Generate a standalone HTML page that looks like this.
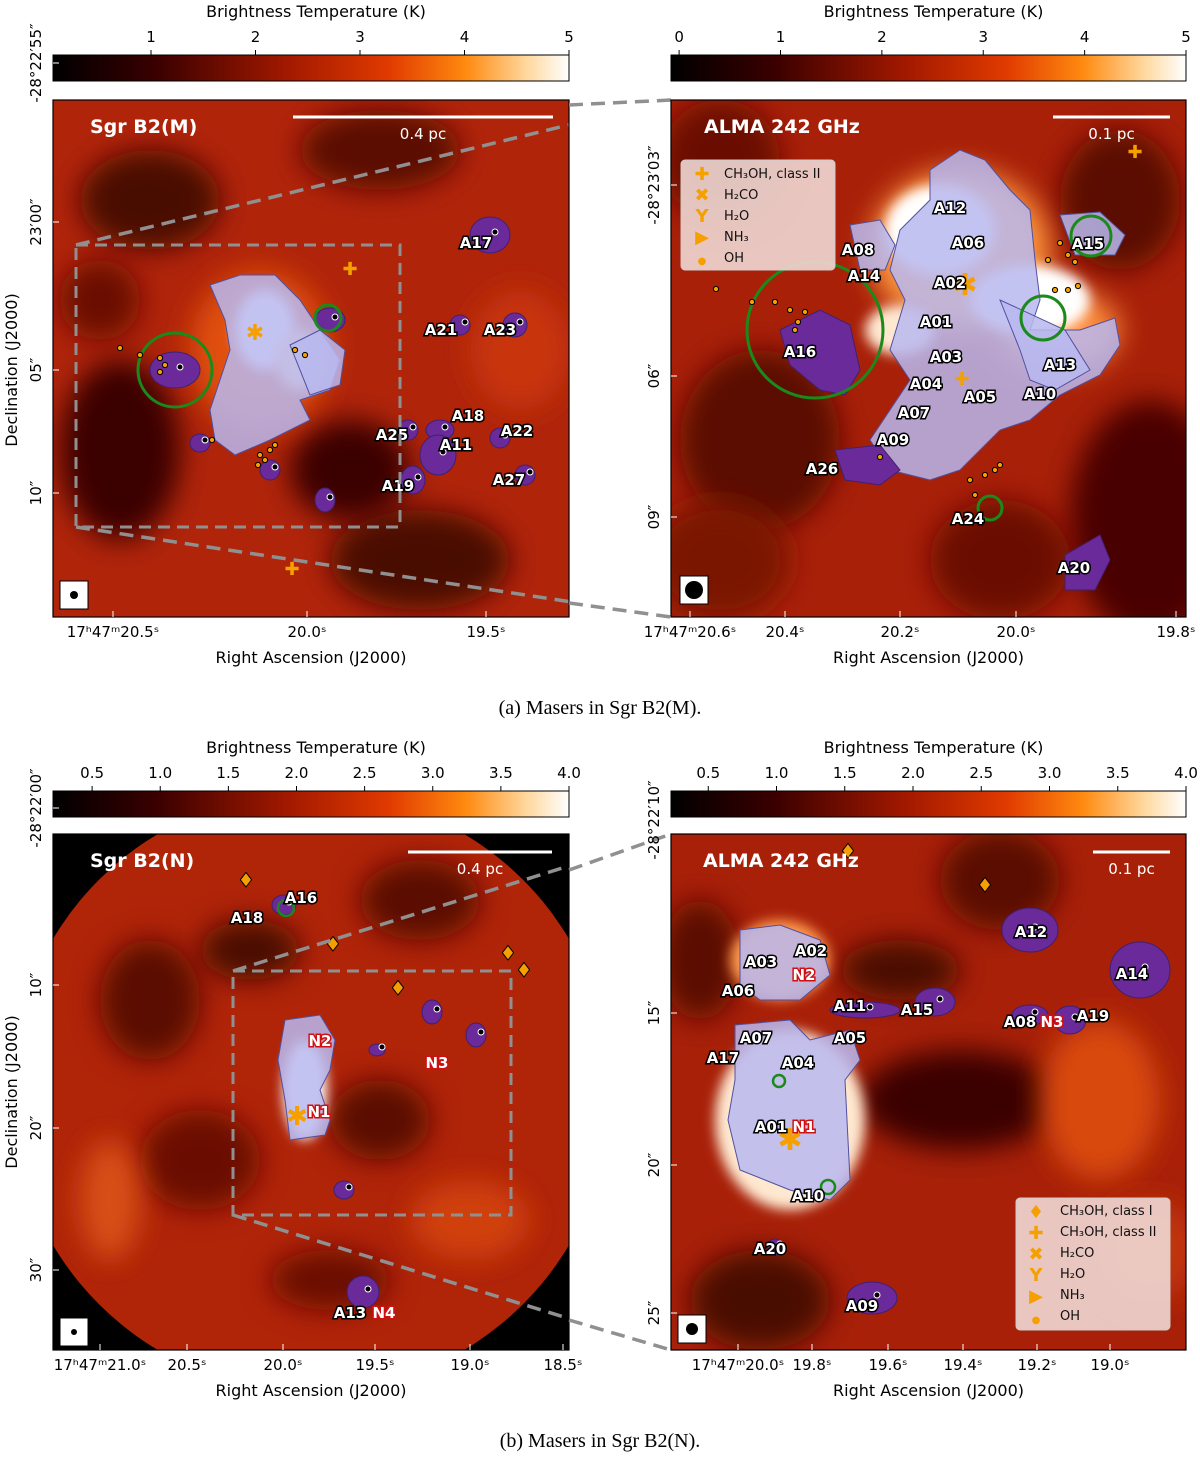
<!DOCTYPE html>
<html><head><meta charset="utf-8">
<style>
html,body{margin:0;padding:0;background:#fff;}
svg{display:block;font-family:"DejaVu Sans","Liberation Sans",sans-serif;}
.tk{font-size:15px;fill:#000;}
.ax{font-size:16px;fill:#000;}
.cap{font-family:"Liberation Serif",serif;font-size:20px;fill:#000;}
.src{font-size:15px;font-weight:bold;fill:#fff;stroke:#000;stroke-width:3px;paint-order:stroke;}
.ttl{font-size:19px;font-weight:bold;fill:#fff;}
.lg{font-size:13px;fill:#111;}
</style></head>
<body>
<svg id="fig" width="1200" height="1457" viewBox="0 0 1200 1457" xmlns="http://www.w3.org/2000/svg">
<defs>
<linearGradient id="cmap" x1="0" x2="1" y1="0" y2="0">
<stop offset="0" stop-color="#000"/><stop offset="0.2" stop-color="#3a0000"/><stop offset="0.45" stop-color="#a01800"/>
<stop offset="0.65" stop-color="#e03a00"/><stop offset="0.8" stop-color="#ff8a10"/><stop offset="0.92" stop-color="#ffd9a0"/><stop offset="1" stop-color="#fff"/>
</linearGradient>
<filter id="blur" x="-50%" y="-50%" width="200%" height="200%"><feGaussianBlur stdDeviation="14"/></filter>
<filter id="blur2" x="-50%" y="-50%" width="200%" height="200%"><feGaussianBlur stdDeviation="6"/></filter>
<clipPath id="c1"><rect x="53" y="100" width="516" height="517"/></clipPath>
<clipPath id="c2"><rect x="671" y="100" width="515" height="517"/></clipPath>
<clipPath id="c3"><rect x="53" y="834" width="516" height="516"/></clipPath>
<clipPath id="c4"><rect x="671" y="834" width="515" height="516"/></clipPath>
</defs>
<g id="root"></g>
</svg>
<script>
// ---- data arrays ----
const cbTicksTL=[1,2,3,4,5];
const cbTicksTR=[0,1,2,3,4,5];
const cbTicksBL=[0.5,1.0,1.5,2.0,2.5,3.0,3.5,4.0];
const cbTicksBR=[0.5,1.0,1.5,2.0,2.5,3.0,3.5,4.0];
const raTL=['17ʰ47ᵐ20.5ˢ','20.0ˢ','19.5ˢ'];
const raTR=['17ʰ47ᵐ20.6ˢ','20.4ˢ','20.2ˢ','20.0ˢ','19.8ˢ'];
const raBL=['17ʰ47ᵐ21.0ˢ','20.5ˢ','20.0ˢ','19.5ˢ','19.0ˢ','18.5ˢ'];
const raBR=['17ʰ47ᵐ20.0ˢ','19.8ˢ','19.6ˢ','19.4ˢ','19.2ˢ','19.0ˢ'];
const decTL=['-28°22′55″','23′00″','05″','10″'];
const decTR=['-28°23′03″','06″','09″'];
const decBL=['-28°22′00″','10″','20″','30″'];
const decBR=['-28°22′10″','15″','20″','25″'];
const srcTL=[['A17',476,243],['A21',441,330],['A23',500,330],['A18',468,416],['A22',517,431],['A25',392,435],['A11',456,445],['A19',398,486],['A27',509,480]];
const srcTR=[['A12',950,208],['A08',858,250],['A06',968,243],['A14',864,276],['A15',1088,244],['A02',950,283],['A01',936,322],['A16',800,352],['A03',946,357],['A13',1060,365],['A04',926,384],['A10',1040,394],['A05',980,397],['A07',914,413],['A09',893,440],['A26',822,469],['A24',968,519],['A20',1074,568]];
const srcBL=[['A16',301,898],['A18',247,918],['N2',320,1041],['N3',437,1063],['N1',319,1112],['A13',350,1313],['N4',384,1313]];
const srcBR=[['A12',1031,932],['A02',811,951],['A03',761,962],['N2',804,975],['A06',738,991],['A14',1132,974],['A11',850,1006],['A15',917,1010],['A08',1020,1022],['N3',1052,1022],['A19',1093,1016],['A07',756,1038],['A05',850,1038],['A17',723,1058],['A04',798,1063],['A01',771,1127],['N1',804,1127],['A10',808,1196],['A20',770,1249],['A09',862,1306]];

const NS='http://www.w3.org/2000/svg';
const root=document.getElementById('root');
function el(tag,attrs,parent,text){const e=document.createElementNS(NS,tag);for(const k in attrs)e.setAttribute(k,attrs[k]);if(text!==undefined)e.textContent=text;(parent||root).appendChild(e);return e;}

function colorbar(x0,w,y0,vmin,vmax,ticks,name){
  const g=el('g',{});
  
  
  el('rect',{x:x0,y:y0,width:w,height:26,fill:'url(#cmap)',stroke:'#000','stroke-width':1},g);
  const sx=v=>x0+(v-vmin)/(vmax-vmin)*w;
  ticks.forEach(t=>{
    el('line',{x1:sx(t),x2:sx(t),y1:y0,y2:y0-5,stroke:'#000'},g);
    const lab=el('text',{x:sx(t),y:y0-13,'text-anchor':'middle',class:'tk'},g,(t%1===0&&ticks.some(v=>v%1!==0))?t.toFixed(1):String(t));
    
    
  });
  const tt=el('text',{x:x0+w/2+5,y:y0-38,'text-anchor':'middle',class:'ax'},g,'Brightness Temperature (K)');
  
  
}
colorbar(53,516,55,0.062,5,cbTicksTL,'colorbar-sgrb2m-wide');
colorbar(671,515,55,-0.08,5,cbTicksTR,'colorbar-sgrb2m-zoom');
colorbar(53,516,791,0.213,4.0,cbTicksBL,'colorbar-sgrb2n-wide');
colorbar(671,515,791,0.227,4.0,cbTicksBR,'colorbar-sgrb2n-zoom');

function blobs(g,list,filt){list.forEach(b=>el('ellipse',{cx:b[0],cy:b[1],rx:b[2],ry:b[3],fill:b[4],filter:filt||'url(#blur)'},g));}
function region(g,pts){const p=el('polygon',{points:pts,fill:'#b8b8f0','fill-opacity':0.85,stroke:'#5050a0','stroke-width':1},g);return p;}
function purple(g,cx,cy,rx,ry){el('ellipse',{cx,cy,rx,ry,fill:'#6a2a9a',stroke:'#402070','stroke-width':1},g);el('circle',{cx:cx+5,cy:cy-3,r:3,fill:'#000',stroke:'#fff','stroke-width':1},g);}

function panel(x,y,w,h,clip,name,base){
  const g=el('g',{'clip-path':'url(#'+clip+')'});
  
  
  el('rect',{x,y,width:w,height:h,fill:base},g);
  return g;
}
function frame(x,y,w,h,name){
  const r=el('rect',{x,y,width:w,height:h,fill:'none',stroke:'#000','stroke-width':1.2});
  
  
}
function labels(g,list){list.forEach(s=>{const t=el('text',{x:s[1],y:s[2]+5,'text-anchor':'middle',class:'src'},g,s[0]);
  
  
  if(s[0][0]==='N'){t.setAttribute('style','fill:#fff;stroke:#d01010');}
});}
function dots(g,pts){pts.forEach(p=>el('circle',{cx:p[0],cy:p[1],r:2.6,fill:'#f5a000',stroke:'#000','stroke-width':1},g));}
function axes(x0,y0,w,h,ra,raX,dec,decY,axname){
  ra.forEach((t,i)=>{const l=el('text',{x:raX[i],y:y0+h+20,'text-anchor':'middle',class:'tk'},root,t);
    
    
    el('line',{x1:raX[i],x2:raX[i],y1:y0+h,y2:y0+h-6,stroke:'#fff'});});
  dec.forEach((t,i)=>{const l=el('text',{x:0,y:0,transform:`translate(${x0-12},${decY[i]}) rotate(-90)`,'text-anchor':'middle',class:'tk'},root,t);
    
    
    el('line',{x1:x0,x2:x0+6,y1:decY[i],y2:decY[i],stroke:'#fff'});});
  const a=el('text',{x:x0+w/2,y:y0+h+46,'text-anchor':'middle',class:'ax'},root,'Right Ascension (J2000)');
  
  
}
function beam(x,y,r){el('rect',{x,y,width:28,height:28,fill:'#fff',stroke:'#000'});el('circle',{cx:x+14,cy:y+14,r,fill:'#000'});}
function scalebar(x1,x2,y,txt){el('line',{x1,x2,y1:y,y2:y,stroke:'#fff','stroke-width':3});el('text',{x:(x1+x2)/2,y:y+22,'text-anchor':'middle',class:'tk',fill:'#fff',style:'fill:#fff'},root,txt);}

// ---- Panel TL ----
let g=panel(53,100,516,517,'c1','map-sgrb2m-wide','#b0240a');
blobs(g,[[150,200,70,50,'#4a0800'],[380,150,80,40,'#5a0c00'],[120,450,60,90,'#3a0500'],[420,560,90,50,'#4a0800'],[350,470,60,50,'#3a0500'],[520,350,50,60,'#c8340c'],[260,350,70,80,'#e05010'],[100,300,40,40,'#6a1000']]);
blobs(g,[[265,330,30,40,'#ffffff'],[300,360,25,30,'#ffe0b0']],'url(#blur2)');
region(g,'210,285 240,275 275,275 300,300 320,330 340,360 330,390 300,400 310,420 270,440 235,455 215,440 210,410 220,380 230,350 225,320');
region(g,'290,345 320,330 345,350 340,385 310,395');
purple(g,175,370,25,18);purple(g,490,235,20,18);purple(g,330,320,15,12);purple(g,460,325,10,10);purple(g,515,325,12,12);
purple(g,440,430,14,10);purple(g,408,430,10,10);purple(g,438,455,18,20);purple(g,500,438,10,10);purple(g,413,480,12,14);purple(g,525,475,10,10);purple(g,270,470,10,10);purple(g,325,500,10,12);purple(g,200,443,10,9);
el('circle',{cx:175,cy:370,r:37,fill:'none',stroke:'#1a8a1a','stroke-width':3},g);
el('circle',{cx:328,cy:318,r:13,fill:'none',stroke:'#1a8a1a','stroke-width':3},g);
dots(g,[[120,348],[140,355],[160,358],[165,365],[160,372],[260,455],[265,460],[270,450],[258,465],[275,445],[295,350],[305,355],[212,440]]);
el('text',{x:350,y:275,'text-anchor':'middle',style:'fill:#f5a000;font-size:18px;font-weight:bold'},g,'✚');
el('text',{x:292,y:575,'text-anchor':'middle',style:'fill:#f5a000;font-size:18px;font-weight:bold'},g,'✚');
el('text',{x:255,y:340,'text-anchor':'middle',style:'fill:#f5a000;font-size:22px;font-weight:bold'},g,'✱');
labels(g,srcTL);
el('rect',{x:76,y:245,width:324,height:282,fill:'none',stroke:'#909090','stroke-width':3,'stroke-dasharray':'12,7'},g);
el('line',{x1:76,y1:245,x2:671,y2:100,stroke:'#909090','stroke-width':3.5,'stroke-dasharray':'14,8'},g);
el('line',{x1:76,y1:527,x2:671,y2:617,stroke:'#909090','stroke-width':3.5,'stroke-dasharray':'14,8'},g);
el('text',{x:90,y:133,class:'ttl'},root,'Sgr B2(M)');
scalebar(293,553,117,'0.4 pc');
beam(60,581,4);
frame(53,100,516,517,'map-frame-tl');
axes(53,100,516,517,raTL,[113,307,486],decTL,[63,222,370,493]);
el('line',{x1:569,y1:105,x2:671,y2:100,stroke:'#909090','stroke-width':3.5,'stroke-dasharray':'14,8'});
el('line',{x1:569,y1:603,x2:671,y2:617,stroke:'#909090','stroke-width':3.5,'stroke-dasharray':'14,8'});

// ---- Panel TR ----
g=panel(671,100,515,517,'c2','map-sgrb2m-zoom','#a82008');
blobs(g,[[720,160,60,60,'#6a0c00'],[760,440,80,90,'#5a0800'],[1150,520,80,120,'#4a0600'],[1120,200,60,70,'#5a0a00'],[720,560,70,60,'#7a1200'],[1000,560,70,60,'#6a0e00'],[960,250,90,80,'#ff9a40'],[1060,330,60,40,'#ff9040']]);
blobs(g,[[940,230,55,45,'#ffffff'],[1030,300,60,35,'#ffffff'],[900,330,35,25,'#ffe8d0']],'url(#blur2)');
region(g,'930,170 960,150 985,160 1010,190 1030,210 1035,260 1040,300 1030,330 1080,330 1115,318 1120,345 1100,375 1060,395 1030,420 1000,430 960,470 930,480 890,470 870,440 890,410 910,380 890,350 905,300 890,270 900,230 930,200');
region(g,'850,225 880,220 895,245 885,270 860,270');
region(g,'1060,215 1100,212 1125,235 1115,255 1075,255');
el('polygon',{points:'780,330 820,310 850,325 860,370 845,395 820,390 790,365','fill':'#6a2a9a','stroke':'#402070'},g);
el('polygon',{points:'835,450 880,445 900,470 880,485 845,480','fill':'#6a2a9a','stroke':'#402070'},g);
el('polygon',{points:'1065,555 1100,535 1110,560 1095,590 1065,590','fill':'#6a2a9a','stroke':'#402070'},g);
el('polygon',{points:'1000,300 1020,350 1030,380 1055,390 1090,370 1065,330','fill':'#b8b8f0','fill-opacity':0.85,'stroke':'#5050a0'},g);
el('circle',{cx:815,cy:330,r:68,fill:'none',stroke:'#1a8a1a','stroke-width':3},g);
el('circle',{cx:1091,cy:236,r:20,fill:'none',stroke:'#1a8a1a','stroke-width':3},g);
el('circle',{cx:1043,cy:318,r:22,fill:'none',stroke:'#1a8a1a','stroke-width':3},g);
el('circle',{cx:990,cy:508,r:12,fill:'none',stroke:'#1a8a1a','stroke-width':3},g);
dots(g,[[716,289],[752,302],[775,302],[790,310],[798,322],[805,312],[795,330],[1060,243],[1068,255],[1075,262],[1048,260],[1055,290],[1068,290],[1078,286],[970,480],[985,475],[995,470],[1000,465],[975,495],[880,457]]);
el('text',{x:1135,y:158,'text-anchor':'middle',style:'fill:#f5a000;font-size:18px;font-weight:bold'},g,'✚');
el('text',{x:962,y:385,'text-anchor':'middle',style:'fill:#f5a000;font-size:18px;font-weight:bold'},g,'✚');
el('text',{x:965,y:295,'text-anchor':'middle',style:'fill:#f5a000;font-size:30px;font-weight:bold'},g,'✱');
labels(g,srcTR);
const lg1=el('g',{});


el('rect',{x:681,y:160,width:154,height:110,rx:4,fill:'#f0d8d4','fill-opacity':0.9,stroke:'#ccc'},lg1);
const legTop=['CH₃OH, class II','H₂CO','H₂O','NH₃','OH'];
const legSymTop=['✚','✖','Y','▶','●'];
legTop.forEach((t,i)=>{el('text',{x:702,y:180+i*21,'text-anchor':'middle',style:'fill:#f5a000;font-size:'+(i==4?10:18)+'px;font-weight:bold'},lg1,legSymTop[i]);
  const e=el('text',{x:724,y:178+i*21,class:'lg'},lg1,t);
  
  });
el('text',{x:704,y:133,class:'ttl'},root,'ALMA 242 GHz');
scalebar(1053,1170,117,'0.1 pc');
beam(680,576,9);
frame(671,100,515,517,'map-frame-tr');
axes(671,100,515,517,raTR,[690,785,900,1016,1176],decTR,[185,376,517]);
let dl=el('text',{x:0,y:0,transform:'translate(17,370) rotate(-90)','text-anchor':'middle',class:'ax'},root,'Declination (J2000)');

let c1=el('text',{x:600,y:714,'text-anchor':'middle',class:'cap'},root,'(a) Masers in Sgr B2(M).');


// ---- Panel BL ----
g=panel(53,834,516,516,'c3','map-sgrb2n-wide','#000');
el('circle',{cx:311,cy:1092,r:300,fill:'#b02408'},g);
blobs(g,[[150,1000,50,60,'#5a0c00'],[420,900,60,40,'#5a0a00'],[200,1160,60,50,'#6a1000'],[110,1200,30,60,'#d85018'],[470,1220,60,40,'#d04010'],[250,950,50,30,'#4a0800'],[380,1120,50,40,'#5a0a00'],[330,1280,60,30,'#6a1000']]);
blobs(g,[[305,1090,22,50,'#ffffff']],'url(#blur2)');
region(g,'285,1020 320,1015 335,1040 330,1070 320,1090 330,1120 325,1135 290,1140 285,1100 278,1060');
purple(g,284,905,12,10);purple(g,432,1012,10,12);purple(g,476,1035,10,12);purple(g,377,1050,8,6);purple(g,344,1190,10,9);purple(g,363,1292,16,16);
el('circle',{cx:286,cy:908,r:8,fill:'none',stroke:'#1a8a1a','stroke-width':2.5},g);
['246,887','333,951','398,995','508,960','524,977'].forEach(p=>{const [a,b]=p.split(',');el('text',{x:a,y:b,'text-anchor':'middle',style:'fill:#f5a000;font-size:20px;stroke:#000;stroke-width:1'},g,'♦');});
el('text',{x:297,y:1125,'text-anchor':'middle',style:'fill:#f5a000;font-size:26px;font-weight:bold'},g,'✱');
labels(g,srcBL);
el('rect',{x:233,y:971,width:278,height:244,fill:'none',stroke:'#909090','stroke-width':3,'stroke-dasharray':'12,7'},g);
el('line',{x1:233,y1:971,x2:671,y2:834,stroke:'#909090','stroke-width':3.5,'stroke-dasharray':'14,8'},g);
el('line',{x1:233,y1:1215,x2:671,y2:1350,stroke:'#909090','stroke-width':3.5,'stroke-dasharray':'14,8'},g);
el('text',{x:90,y:867,class:'ttl'},root,'Sgr B2(N)');
scalebar(408,552,852,'0.4 pc');
beam(60,1318,3);
frame(53,834,516,516,'map-frame-bl');
axes(53,834,516,516,raBL,[100,187,283,375,470,563],decBL,[808,985,1128,1270]);
el('line',{x1:569,y1:870,x2:671,y2:834,stroke:'#909090','stroke-width':3.5,'stroke-dasharray':'14,8'});
el('line',{x1:569,y1:1320,x2:671,y2:1350,stroke:'#909090','stroke-width':3.5,'stroke-dasharray':'14,8'});

// ---- Panel BR ----
g=panel(671,834,515,516,'c4','map-sgrb2n-zoom','#a82008');
blobs(g,[[960,1100,100,50,'#3a0500'],[1000,880,60,50,'#5a0a00'],[760,1300,70,50,'#4a0800'],[1100,1100,60,80,'#d84a10'],[900,970,60,30,'#4a0800'],[1150,1250,50,50,'#c03410'],[700,960,40,60,'#5a0800']]);
blobs(g,[[790,1120,75,90,'#ffe8d0'],[780,960,50,40,'#ff9a50']],'url(#blur2)');
region(g,'740,930 780,925 820,940 830,975 800,1000 760,1000 740,985');
region(g,'735,1025 790,1020 810,1040 850,1030 860,1060 845,1080 850,1180 830,1200 790,1190 740,1170 728,1120 735,1080');
['1030,930,28,22','1140,970,30,28','935,1002,20,14','1070,1020,16,14','1030,1015,18,10','865,1010,35,8','775,1247,8,8','872,1298,25,16'].forEach(s=>{const [a,b,c,d]=s.split(',').map(Number);purple(g,a,b,c,d);});
el('circle',{cx:828,cy:1187,r:7,fill:'none',stroke:'#1a8a1a','stroke-width':2.5},g);
el('circle',{cx:779,cy:1081,r:6,fill:'none',stroke:'#1a8a1a','stroke-width':2.5},g);
['848,858','985,892'].forEach(p=>{const [a,b]=p.split(',');el('text',{x:a,y:b,'text-anchor':'middle',style:'fill:#f5a000;font-size:20px;stroke:#000;stroke-width:1'},g,'♦');});
el('text',{x:790,y:1150,'text-anchor':'middle',style:'fill:#f5a000;font-size:30px;font-weight:bold'},g,'✱');
labels(g,srcBR);
const lg2=el('g',{});


el('rect',{x:1016,y:1198,width:154,height:132,rx:4,fill:'#f0d8d4','fill-opacity':0.9,stroke:'#ccc'},lg2);
const legBot=['CH₃OH, class I','CH₃OH, class II','H₂CO','H₂O','NH₃','OH'];
const legSymBot=['♦','✚','✖','Y','▶','●'];
legBot.forEach((t,i)=>{el('text',{x:1036,y:1218+i*21,'text-anchor':'middle',style:'fill:#f5a000;font-size:'+(i==5?10:18)+'px;font-weight:bold'},lg2,legSymBot[i]);
  const e=el('text',{x:1060,y:1215+i*21,class:'lg'},lg2,t);
  
  });
el('text',{x:703,y:867,class:'ttl'},root,'ALMA 242 GHz');
scalebar(1093,1170,852,'0.1 pc');
beam(678,1315,6);
frame(671,834,515,516,'map-frame-br');
axes(671,834,515,516,raBR,[738,812,888,963,1037,1110],decBR,[820,1013,1165,1313]);
dl=el('text',{x:0,y:0,transform:'translate(17,1092) rotate(-90)','text-anchor':'middle',class:'ax'},root,'Declination (J2000)');

c1=el('text',{x:600,y:1447,'text-anchor':'middle',class:'cap'},root,'(b) Masers in Sgr B2(N).');

</script>
</body></html>
